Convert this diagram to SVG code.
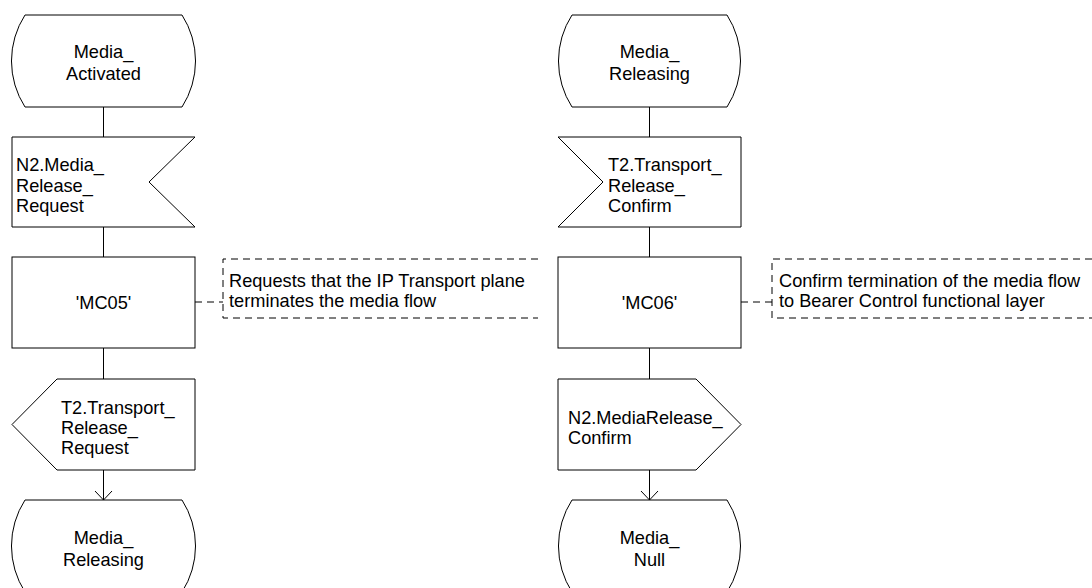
<svg xmlns="http://www.w3.org/2000/svg" width="1092" height="588" viewBox="0 0 1092 588">
<defs>
<style>
.s{fill:#fff;stroke:#000;stroke-width:1}
.c{fill:none;stroke:#000;stroke-width:1}
.d{fill:none;stroke:#000;stroke-width:1;stroke-dasharray:7,5}
text{font-family:"Liberation Sans",Arial,sans-serif;font-size:18.2px;fill:#000}
.m{text-anchor:middle}
</style>
</defs>
<rect width="1092" height="588" fill="#fff"/>
<g id="connectors">
<path class="c" d="M103.5,107V137M103.5,227V257M103.5,348V379M103.5,470V500"/>
<path class="c" d="M95,491L103.5,500L112,491"/>
<path class="c" d="M649.5,107V137M649.5,227V257M649.5,348V379M649.5,470V500"/>
<path class="c" d="M641,491L649.5,500L658,491"/>
<path class="d" d="M195,302H223"/>
<path class="d" d="M741,302H772"/>
</g>
<g id="state_media_activated">
<path class="s" d="M25,15H182A85,85 0 0 1 182,107H25A85,85 0 0 1 25,15Z"/>
<text class="m" x="103.5" y="58">Media_</text>
<text class="m" x="103.5" y="80">Activated</text>
</g>
<g id="input_n2_media_release_request">
<path class="s" d="M12,137H195L149,182L195,227H12Z"/>
<text x="16" y="171">N2.Media_</text>
<text x="16" y="192">Release_</text>
<text x="16" y="212">Request</text>
</g>
<g id="task_mc05">
<rect class="s" x="12" y="257" width="183" height="91"/>
<text class="m" x="103.5" y="309">'MC05'</text>
</g>
<g id="comment_mc05">
<path class="d" d="M538,259H223V318H538"/>
<text x="229" y="287">Requests that the IP Transport plane</text>
<text x="229" y="307">terminates the media flow</text>
</g>
<g id="output_t2_transport_release_request">
<path class="s" d="M57,379H195V470H57L12,424.5Z"/>
<text x="61" y="414">T2.Transport_</text>
<text x="61" y="434">Release_</text>
<text x="61" y="454">Request</text>
</g>
<g id="state_media_releasing_left">
<path class="s" d="M25,500H182A85,85 0 0 1 182,592H25A85,85 0 0 1 25,500Z"/>
<text class="m" x="103.5" y="544">Media_</text>
<text class="m" x="103.5" y="566">Releasing</text>
</g>
<g id="state_media_releasing_right">
<path class="s" d="M572,15H727A85,85 0 0 1 727,107H572A85,85 0 0 1 572,15Z"/>
<text class="m" x="649.5" y="58">Media_</text>
<text class="m" x="649.5" y="80">Releasing</text>
</g>
<g id="input_t2_transport_release_confirm">
<path class="s" d="M558,137H741V227H558L603,182Z"/>
<text x="608" y="171">T2.Transport_</text>
<text x="608" y="192">Release_</text>
<text x="608" y="212">Confirm</text>
</g>
<g id="task_mc06">
<rect class="s" x="558" y="257" width="183" height="91"/>
<text class="m" x="649.5" y="309">'MC06'</text>
</g>
<g id="comment_mc06">
<path class="d" d="M1092,259H772V318H1092"/>
<text x="779" y="287">Confirm termination of the media flow</text>
<text x="779" y="307">to Bearer Control functional layer</text>
</g>
<g id="output_n2_mediarelease_confirm">
<path class="s" d="M558,379H696L741,424.5L696,470H558Z"/>
<text x="568" y="424">N2.MediaRelease_</text>
<text x="568" y="444">Confirm</text>
</g>
<g id="state_media_null">
<path class="s" d="M572,500H727A85,85 0 0 1 727,592H572A85,85 0 0 1 572,500Z"/>
<text class="m" x="649.5" y="544">Media_</text>
<text class="m" x="649.5" y="566">Null</text>
</g>
</svg>
